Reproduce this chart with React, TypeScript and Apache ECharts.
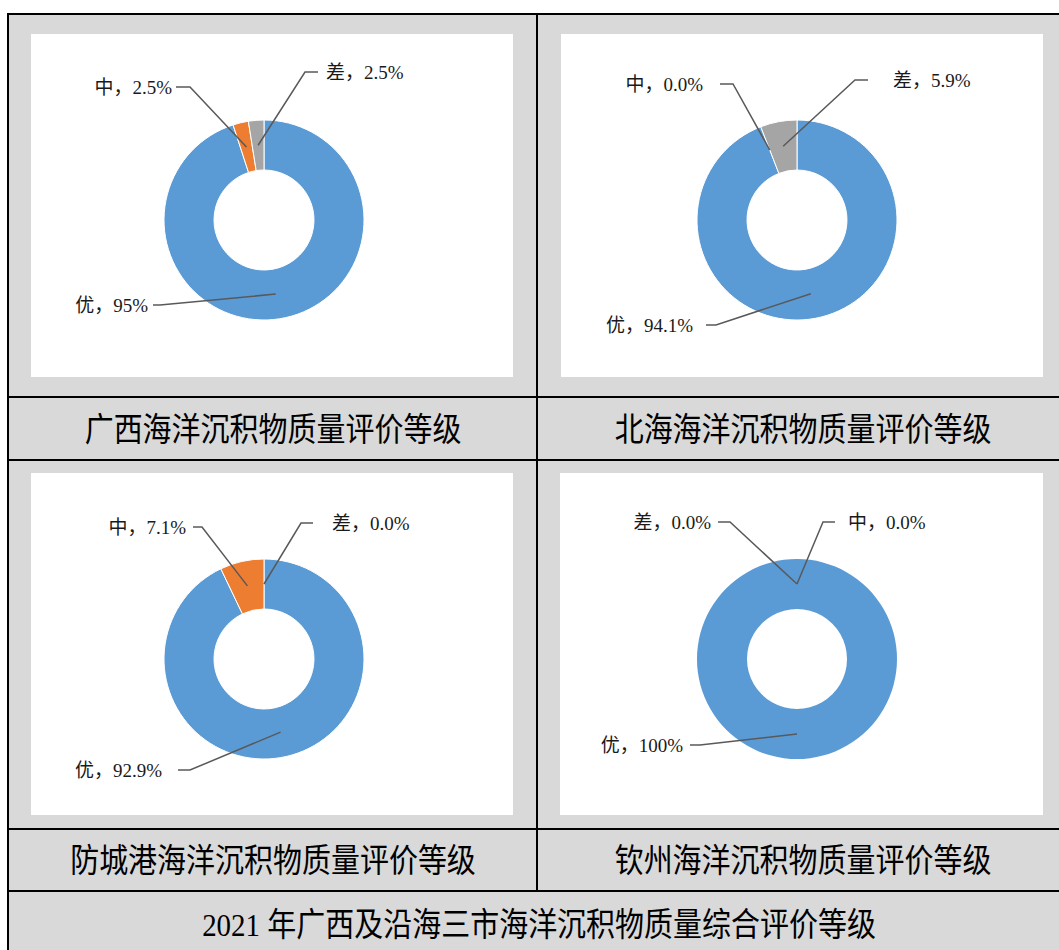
import React, { useEffect, useRef } from "react";
import * as echarts from "echarts";

// ---------- data ----------
const categories = ["优", "中", "差"];
const guangxi = [95, 2.5, 2.5];
const beihai = [94.1, 0.0, 5.9];
const fangchenggang = [92.9, 7.1, 0.0];
const qinzhou = [100, 0.0, 0.0];
const captions = [
  "广西海洋沉积物质量评价等级",
  "北海海洋沉积物质量评价等级",
  "防城港海洋沉积物质量评价等级",
  "钦州海洋沉积物质量评价等级",
];
const footer = "2021 年广西及沿海三市海洋沉积物质量综合评价等级";

// ---------- styles / layout ----------
const COLORS = ["#5b9bd5", "#ed7d31", "#a5a5a5"];
const GRAY = "#d9d9d9";
const W = 1059;
const H = 950;
const R0 = 50;
const R1 = 100;

type LabelPlace = { x: number; y: number; align: "left" | "right"; lineStart: number; elbow: number };

const panels: {
  values: number[];
  center: [number, number];
  places: LabelPlace[];
}[] = [
  {
    values: guangxi,
    center: [264, 220],
    places: [
      { x: 148, y: 305, align: "right", lineStart: 153, elbow: 160 },
      { x: 172, y: 87, align: "right", lineStart: 176, elbow: 190 },
      { x: 326, y: 72, align: "left", lineStart: 318, elbow: 305 },
    ],
  },
  {
    values: beihai,
    center: [797, 220],
    places: [
      { x: 693, y: 325, align: "right", lineStart: 706, elbow: 716 },
      { x: 703, y: 84, align: "right", lineStart: 720, elbow: 733 },
      { x: 893, y: 80, align: "left", lineStart: 868, elbow: 855 },
    ],
  },
  {
    values: fangchenggang,
    center: [264, 659],
    places: [
      { x: 162, y: 770, align: "right", lineStart: 178, elbow: 190 },
      { x: 186, y: 527, align: "right", lineStart: 193, elbow: 202 },
      { x: 332, y: 523, align: "left", lineStart: 313, elbow: 301 },
    ],
  },
  {
    values: qinzhou,
    center: [797, 659],
    places: [
      { x: 683, y: 745, align: "right", lineStart: 690, elbow: 700 },
      { x: 848, y: 522, align: "left", lineStart: 835, elbow: 823 },
      { x: 711, y: 522, align: "right", lineStart: 718, elbow: 730 },
    ],
  },
];

function fmt(v: number) {
  return v > 0 && v % 1 === 0 ? `${v}%` : `${v.toFixed(1)}%`;
}

function ringMid(values: number[], idx: number, center: [number, number]) {
  const total = values.reduce((a, b) => a + b, 0);
  let cum = 0;
  for (let i = 0; i < idx; i++) cum += values[i];
  const f = (cum + values[idx] / 2) / total;
  const th = f * Math.PI * 2;
  const r = (R0 + R1) / 2;
  return [center[0] + r * Math.sin(th), center[1] - r * Math.cos(th)];
}

export default function App() {
  const ref = useRef<HTMLDivElement>(null);
  useEffect(() => {
    if (!ref.current) return;
    const chart = echarts.init(ref.current, undefined, { renderer: "svg" });

    const lineStyle = { stroke: "#000", lineWidth: 2 };
    const graphic: any[] = [
      { type: "rect", shape: { x: 8, y: 14, width: W, height: H }, style: { fill: GRAY }, silent: true, z: -10 },
      { type: "rect", shape: { x: 31, y: 34, width: 482, height: 343 }, style: { fill: "#fff" }, z: -9 },
      { type: "rect", shape: { x: 561, y: 34, width: 482, height: 343 }, style: { fill: "#fff" }, z: -9 },
      { type: "rect", shape: { x: 31, y: 473, width: 482, height: 342 }, style: { fill: "#fff" }, z: -9 },
      { type: "rect", shape: { x: 560, y: 473, width: 483, height: 342 }, style: { fill: "#fff" }, z: -9 },
      { type: "line", shape: { x1: 7, y1: 14, x2: W, y2: 14 }, style: lineStyle, z: 5 },
      { type: "line", shape: { x1: 8, y1: 13, x2: 8, y2: H }, style: lineStyle, z: 5 },
      { type: "line", shape: { x1: 537, y1: 13, x2: 537, y2: 891 }, style: lineStyle, z: 5 },
      { type: "line", shape: { x1: 7, y1: 397, x2: W, y2: 397 }, style: lineStyle, z: 5 },
      { type: "line", shape: { x1: 7, y1: 460, x2: W, y2: 460 }, style: lineStyle, z: 5 },
      { type: "line", shape: { x1: 7, y1: 829, x2: W, y2: 829 }, style: lineStyle, z: 5 },
      { type: "line", shape: { x1: 7, y1: 891, x2: W, y2: 891 }, style: lineStyle, z: 5 },
    ];
    const capFont = "'Liberation Serif', 'Noto Sans CJK SC', serif";
    const capPos: [number, number][] = [
      [273, 430],
      [803, 430],
      [273, 861],
      [803, 861],
    ];
    captions.forEach((t, i) => {
      graphic.push({
        type: "text",
        x: capPos[i][0],
        y: capPos[i][1],
        scaleY: 1.12,
        style: { text: t, fill: "#000", font: `29px ${capFont}`, textAlign: "center", textVerticalAlign: "middle" },
        z: 6,
      });
    });
    graphic.push({
      type: "text",
      x: 539,
      y: 925,
      scaleY: 1.12,
      style: { text: footer, fill: "#000", font: `29px ${capFont}`, textAlign: "center", textVerticalAlign: "middle" },
      z: 6,
    });

    const series: any[] = [];
    panels.forEach((p, si) => {
      const total = p.values.reduce((a, b) => a + b, 0);
      const common = {
        type: "pie",
        name: captions[si],
        center: p.center,
        radius: [R0, R1],
        startAngle: 90,
        clockwise: true,
        avoidLabelOverlap: false,
        minShowLabelAngle: 0,
        emphasis: { disabled: true },
      };
      // coloured ring
      series.push({
        ...common,
        z: 2,
        label: { show: false },
        labelLine: { show: false },
        data: categories.map((c, i) => ({
          name: c,
          value: p.values[i],
          itemStyle: {
            color: COLORS[i],
            borderColor: "#fff",
            borderWidth: p.values[i] > 0 && p.values[i] < total ? 1 : 0,
          },
        })),
      });
      // labels and leader lines drawn above the ring
      series.push({
        ...common,
        z: 4,
        silent: true,
        label: {
          show: true,
          formatter: (d: any) => `${d.name}，${fmt(d.value)}`,
          color: "#1a1a1a",
          fontSize: 19,
          fontFamily: "'Liberation Serif', 'Noto Sans CJK SC', serif",
        },
        labelLine: { show: true, showAbove: true, lineStyle: { color: "#595959", width: 1.5 } },
        labelLayout: (params: any) => {
          const idx = params.dataIndex;
          const pl = p.places[idx];
          const m = ringMid(p.values, idx, p.center);
          return {
            x: pl.x,
            y: pl.y,
            align: pl.align,
            verticalAlign: "middle",
            labelLinePoints: [
              [m[0], m[1]],
              [pl.elbow, pl.y],
              [pl.lineStart, pl.y],
            ],
          };
        },
        data: categories.map((c, i) => ({
          name: c,
          value: p.values[i],
          itemStyle: { color: "rgba(0,0,0,0)", borderWidth: 0 },
        })),
      });
    });

    chart.setOption({
      animation: false,
      backgroundColor: "#fff",
      graphic,
      series,
    });
    return () => chart.dispose();
  }, []);
  return <div ref={ref} style={{ position: "absolute", left: 0, top: 0, width: W, height: H }} />;
}
